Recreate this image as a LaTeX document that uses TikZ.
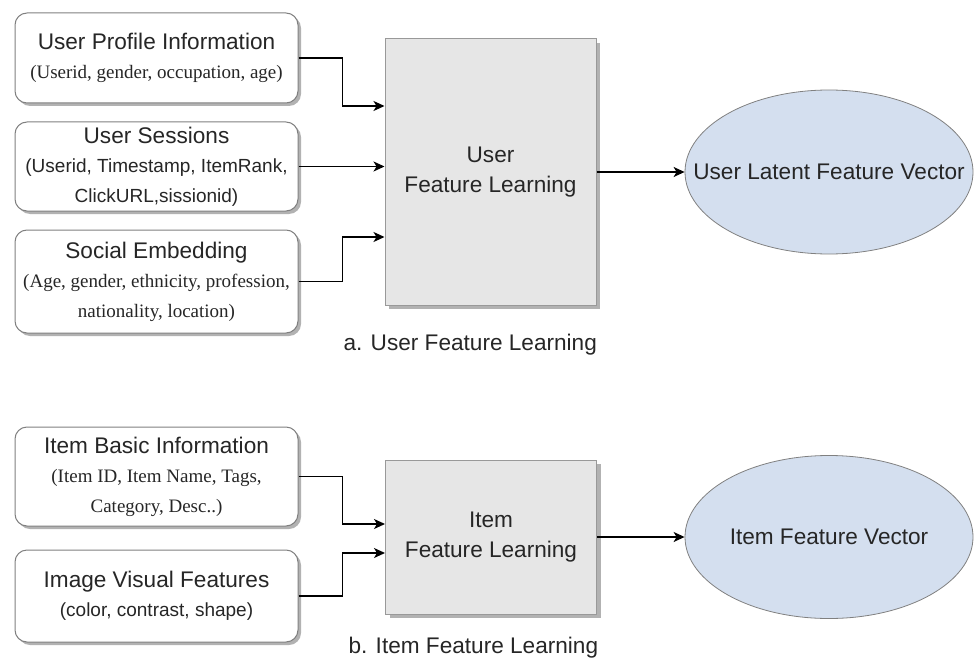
\documentclass[tikz,border=0pt]{standalone}
\usepackage{fontspec}
\setmainfont{Liberation Sans}
\newfontfamily\serifsub{Liberation Serif}
\usepackage{tikz}
\usetikzlibrary{shapes.geometric}
\usetikzlibrary{arrows.meta}
\usetikzlibrary{shadows}
\usetikzlibrary{positioning}

\definecolor{boxline}{HTML}{808080}
\definecolor{learnfill}{HTML}{E6E6E6}
\definecolor{vecfill}{HTML}{D4DFEF}
\definecolor{txt}{HTML}{262626}

\newcommand{\titlef}{\fontsize{22.6}{29.5}\selectfont}
\newcommand{\subsans}{\fontsize{19}{29.5}\selectfont}
\newcommand{\subserif}{\serifsub\fontsize{19}{29.5}\selectfont}

\tikzset{
  srcbox/.style={draw=boxline,line width=1pt,fill=white,rounded corners=12pt,
    minimum width=283pt,align=center,text=txt,font=\titlef,inner sep=0pt,
    drop shadow={shadow xshift=3pt,shadow yshift=-3pt,fill=black!30,opacity=1}},
  learnbox/.style={draw=boxline!80,line width=1pt,fill=learnfill,minimum width=211pt,
    align=center,text=txt,font=\titlef,inner sep=0pt,
    drop shadow={shadow xshift=4pt,shadow yshift=-4pt,fill=black!30,opacity=1}},
  vecnode/.style={ellipse,draw=boxline,line width=.8pt,fill=vecfill,minimum width=288pt,
    minimum height=164pt,inner sep=0pt,label={[text=txt,font=\titlef]center:#1}},
  flow/.style={line width=1.5pt,-{Stealth[length=11pt,width=10pt,inset=3pt]}},
  caption/.style={anchor=west,text=txt,font=\titlef}
}

\begin{document}
\begin{tikzpicture}[x=1pt,y=-1pt]
  \useasboundingbox (0,0) rectangle (974,658);

  % user side
  \node[srcbox,minimum height=90pt] (prof) at (156.5,58)
    {User Profile Information\\{\subserif (Userid, gender, occupation, age)}};
  \node[srcbox,minimum height=89pt] (sess) at (156.5,166.5)
    {User Sessions\\{\subsans (Userid, Timestamp, ItemRank,}\\{\subsans ClickURL,sissionid)}};
  \node[srcbox,minimum height=103pt] (soc) at (156.5,281.5)
    {Social Embedding\\{\subserif (Age, gender, ethnicity, profession,}\\{\subserif nationality, location)}};

  \node[learnbox,minimum height=266pt] (ufl) at (490.5,172) {User\\Feature Learning};
  \node[vecnode=User Latent Feature Vector] (uvec) at (829,172) {};
  \node[caption] (capa) at (340,345) {a. User Feature Learning};

  \draw[flow] (prof.east) -- ([xshift=44pt]prof.east) |- ([yshift=66pt]ufl.west);
  \draw[flow] (sess.east) -- (sess.east -| ufl.west);
  \draw[flow] (soc.east) -- ([xshift=44pt]soc.east) |- ([yshift=-65pt]ufl.west);
  \draw[flow] (ufl.east) -- (uvec.west);

  % item side
  \node[srcbox,minimum height=99pt] (ibasic) at (156.5,476.5)
    {Item Basic Information\\{\subserif (Item ID, Item Name, Tags,}\\{\subserif Category, Desc..)}};
  \node[srcbox,minimum height=92pt] (ivis) at (156.5,596)
    {Image Visual Features\\{\subsans (color, contrast, shape)}};

  \node[learnbox,minimum height=154pt] (ifl) at (491,537) {Item\\Feature Learning};
  \node[vecnode=Item Feature Vector,minimum height=163pt] (ivec) at (829,537) {};
  \node[caption] (capb) at (345,648) {b. Item Feature Learning};

  \draw[flow] (ibasic.east) -- ([xshift=44pt]ibasic.east) |- ([yshift=13pt]ifl.west);
  \draw[flow] (ivis.east) -- ([xshift=44pt]ivis.east) |- ([yshift=-16pt]ifl.west);
  \draw[flow] (ifl.east) -- (ivec.west);
\end{tikzpicture}
\end{document}
